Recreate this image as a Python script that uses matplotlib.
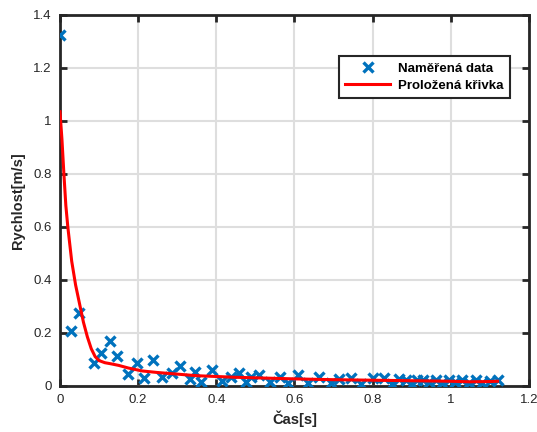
import matplotlib
matplotlib.use("Agg")
import matplotlib.pyplot as plt
from matplotlib.ticker import FuncFormatter

# Measured data
t_data = [0.000, 0.027, 0.049, 0.087, 0.106, 0.128, 0.146, 0.175, 0.197, 0.215,
          0.237, 0.260, 0.287, 0.306, 0.333, 0.345, 0.362, 0.390, 0.414, 0.438,
          0.458, 0.477, 0.490, 0.510, 0.537, 0.562, 0.584, 0.609, 0.634, 0.664,
          0.694, 0.715, 0.745, 0.770, 0.800, 0.830, 0.851, 0.868, 0.885, 0.902,
          0.915, 0.928, 0.945, 0.962, 0.979, 0.995, 1.012, 1.030, 1.047, 1.064,
          1.081, 1.100, 1.122]
v_data = [1.325, 0.207, 0.275, 0.087, 0.125, 0.169, 0.112, 0.044, 0.085, 0.029,
          0.096, 0.032, 0.049, 0.074, 0.024, 0.053, 0.013, 0.059, 0.017, 0.034,
          0.050, 0.013, 0.034, 0.040, 0.015, 0.034, 0.009, 0.040, 0.010, 0.034,
          0.010, 0.027, 0.030, 0.008, 0.030, 0.030, 0.008, 0.025, 0.021, 0.006,
          0.021, 0.021, 0.015, 0.021, 0.011, 0.021, 0.015, 0.021, 0.011, 0.021,
          0.011, 0.018, 0.021]

# Fitted curve
t_fit = [0.0, 0.005, 0.01, 0.015, 0.02, 0.03, 0.04, 0.05, 0.06, 0.07, 0.08, 0.09,
         0.10, 0.115, 0.13, 0.15, 0.175, 0.21, 0.25, 0.30, 0.35, 0.40, 0.45, 0.50,
         0.60, 0.70, 0.80, 0.90, 1.00, 1.05, 1.10, 1.12]
v_fit = [1.034, 0.93, 0.80, 0.68, 0.60, 0.47, 0.38, 0.31, 0.24, 0.185, 0.14, 0.11,
         0.095, 0.087, 0.083, 0.077, 0.067, 0.056, 0.050, 0.044, 0.038, 0.035, 0.032,
         0.030, 0.026, 0.023, 0.021, 0.019, 0.017, 0.015, 0.016, 0.017]

x_ticks = [0, 0.2, 0.4, 0.6, 0.8, 1.0, 1.2]
y_ticks = [0, 0.2, 0.4, 0.6, 0.8, 1.0, 1.2, 1.4]

plt.rcParams['font.family'] = ['Liberation Sans', 'DejaVu Sans']

fig = plt.figure(figsize=(5.37, 4.32), dpi=100)
ax = fig.add_axes([0.1117, 0.107, 0.8730, 0.859])

ax.plot(t_data, v_data, linestyle='none', marker='x', color='#0072BD',
        markersize=7, markeredgewidth=2.4, label='Naměřená data', zorder=3)
ax.plot(t_fit, v_fit, color='#FF0000', linewidth=2.2, label='Proložená křivka', zorder=4)

ax.set_xlim(0, 1.2)
ax.set_ylim(0, 1.4)
ax.set_xticks(x_ticks)
ax.set_yticks(y_ticks)
fmt = FuncFormatter(lambda v, p: ('%g' % round(v, 3)))
ax.xaxis.set_major_formatter(fmt)
ax.yaxis.set_major_formatter(fmt)

ax.grid(True, color='#dedede', linewidth=1.5)
ax.set_axisbelow(True)
for s in ax.spines.values():
    s.set_linewidth(2.0)
    s.set_color('#262626')
ax.tick_params(direction='in', length=5, width=2, color='#262626',
               top=True, right=True, labelsize=9.5, labelcolor='#262626', pad=6)

ax.set_xlabel('Čas[s]', fontsize=10.5, fontweight='bold', color='#262626', labelpad=3)
ax.set_ylabel('Rychlost[m/s]', fontsize=10.5, fontweight='bold', color='#262626', labelpad=6)

leg = ax.legend(loc='upper right', bbox_to_anchor=(0.974, 0.906),
                prop={'weight': 'bold', 'size': 9.5}, fancybox=False, framealpha=1,
                edgecolor='#262626', handlelength=3.4, borderpad=0.5,
                labelspacing=0.35, handletextpad=0.6)
leg.get_frame().set_linewidth(1.5)

fig.savefig('out.png', dpi=100)
